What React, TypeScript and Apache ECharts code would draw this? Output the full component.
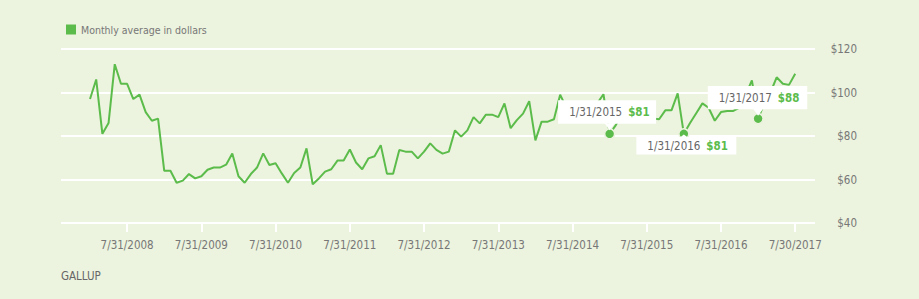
import React, { useEffect, useRef } from "react";
import * as echarts from "echarts";

// Monthly values, Jan 2008 .. Jul 2017 (index 0 = Jan 2008)
const values2008 = [97, 106, 81, 86, 113, 104, 104, 97, 99, 91, 87, 88];
const values2009 = [64, 64, 58.5, 59.5, 62.5, 60.5, 61.5, 64.5, 65.5, 65.5, 66.8, 72];
const values2010 = [61.5, 58.5, 62.5, 65.5, 72, 66.7, 67.5, 62.8, 58.5, 63, 65.5, 74.3];
const values2011 = [57.8, 60.5, 63.6, 64.7, 68.7, 68.7, 73.8, 67.8, 64.7, 69.7, 70.7, 75.8];
const values2012 = [62.7, 62.7, 73.6, 72.8, 72.8, 69.7, 72.8, 76.6, 73.6, 71.9, 72.8, 82.6];
const values2013 = [79.7, 82.6, 88.7, 85.8, 89.8, 89.8, 88.7, 95, 83.6, 87.3, 90.3, 96];
const values2014 = [78, 86.6, 86.6, 87.7, 99, 93, 90, 91, 94, 92, 95, 99.2];
const values2015 = [81, 85, 90, 92, 88, 89, 90, 88, 87.7, 91.8, 91.8, 99.6];
const values2016 = [81, 86, 90.5, 95, 93, 87, 91, 91.5, 91.5, 93, 99, 105.6];
const values2017 = [88, 95, 100, 107, 104, 103.5, 108.6];

const monthlyValues = [
  ...values2008, ...values2009, ...values2010, ...values2011, ...values2012,
  ...values2013, ...values2014, ...values2015, ...values2016, ...values2017,
];

// x tick positions (month index) and labels
const tickIndices = [6, 18, 30, 42, 54, 66, 78, 90, 102, 114];
const tickLabels = [
  "7/31/2008", "7/31/2009", "7/31/2010", "7/31/2011", "7/31/2012",
  "7/31/2013", "7/31/2014", "7/31/2015", "7/31/2016", "7/30/2017",
];

// highlighted points (callouts)
const highlightIndices = [84, 96, 108];
const highlightDates = ["1/31/2015", "1/31/2016", "1/31/2017"];

const seriesName = "Monthly average in dollars";
const sourceLabel = "GALLUP";

const GREEN = "#5cbc4b";
const BG = "#ecf3de";
const FONT = "'DejaVu Sans Condensed', Roboto, sans-serif";

// callout box layout relative to the highlighted dot (pixels)
const calloutLayout = [
  { dx: -51.5, dy: -33.5, w: 98, h: 23.5, pointer: "down" },
  { dx: -47.5, dy: 3.2, w: 100, h: 17.5, pointer: "up" },
  { dx: -50.3, dy: -32.6, w: 99.5, h: 23.3, pointer: "down" },
];

export default function App() {
  const ref = useRef<HTMLDivElement>(null);

  useEffect(() => {
    document.body.style.margin = "0";
    const chart = echarts.init(ref.current!, null, { renderer: "svg" });
    chart.setOption({
      animation: false,
      backgroundColor: BG,
      textStyle: { fontFamily: FONT },
      legend: {
        left: 61,
        top: 19,
        itemWidth: 10,
        itemHeight: 10,
        itemGap: 10,
        data: [{ name: seriesName, icon: "rect" }],
        textStyle: { color: "#777", fontSize: 10.5, fontFamily: FONT },
      },
      grid: { left: 61, right: 104, top: 49, bottom: 76 },
      xAxis: {
        type: "value",
        min: -4.69,
        max: 117.2,
        splitLine: { show: false },
        axisLine: { show: false },
        axisTick: {
          show: true,
          customValues: tickIndices,
          length: 9,
          lineStyle: { color: "#ffffff", width: 2 },
        },
        axisLabel: {
          customValues: tickIndices,
          margin: 16,
          color: "#777",
          fontSize: 11.5,
          fontFamily: FONT,
          formatter: (v: number) => {
            const i = tickIndices.indexOf(Math.round(v));
            return i >= 0 ? tickLabels[i] : "";
          },
        },
      },
      yAxis: {
        type: "value",
        position: "right",
        min: 40,
        max: 120,
        interval: 20,
        axisLine: { show: false },
        axisTick: { show: false },
        splitLine: { show: true, lineStyle: { color: "#ffffff", width: 2 } },
        axisLabel: {
          margin: 42,
          align: "right",
          color: "#777",
          fontSize: 11.5,
          fontFamily: FONT,
          formatter: (v: number) => "$" + v,
        },
      },
      series: [
        {
          name: seriesName,
          type: "line",
          data: monthlyValues.map((v, i) => [i, v]),
          showSymbol: false,
          symbol: "none",
          lineStyle: { color: GREEN, width: 2 },
          itemStyle: { color: GREEN },
          z: 3,
        },
        {
          name: "highlights",
          type: "scatter",
          data: highlightIndices.map((i) => [i, monthlyValues[i]]),
          symbolSize: 10,
          itemStyle: { color: GREEN, borderColor: BG, borderWidth: 1.5, opacity: 1 },
          z: 4,
        },
      ],
    });

    const groups = highlightIndices.map((idx, k) => {
      const [px, py] = chart.convertToPixel({ seriesIndex: 0 }, [idx, monthlyValues[idx]]) as number[];
      const L = calloutLayout[k];
      const bx = px + L.dx;
      const by = py + L.dy;
      const pointer =
        L.pointer === "down"
          ? [[px - 5, by + L.h - 0.5], [px + 5, by + L.h - 0.5], [px, by + L.h + 6.5]]
          : [[px - 4, by + 0.5], [px + 4, by + 0.5], [px, by - 2.5]];
      return {
        type: "group",
        z: 100,
        children: [
          { type: "rect", z: 100, shape: { x: bx, y: by, width: L.w, height: L.h }, style: { fill: "#ffffff" } },
          { type: "polygon", z: 100, shape: { points: pointer }, style: { fill: "#ffffff" } },
          {
            type: "text",
            z: 101,
            x: bx + 11,
            y: by + L.h / 2,
            style: {
              text: highlightDates[k],
              fill: "#666",
              font: "11.5px " + FONT,
              verticalAlign: "middle",
              align: "left",
            },
          },
          {
            type: "text",
            z: 101,
            x: bx + 70,
            y: by + L.h / 2,
            style: {
              text: "$" + Math.round(monthlyValues[idx]),
              fill: GREEN,
              font: "bold 11.5px " + FONT,
              verticalAlign: "middle",
              align: "left",
            },
          },
        ],
      };
    });

    chart.setOption({
      graphic: [
        ...groups,
        {
          type: "text",
          left: 61,
          top: 270,
          style: { text: sourceLabel, fill: "#666", font: "11.5px " + FONT },
        },
      ],
    });

    return () => chart.dispose();
  }, []);

  return (
    <div
      ref={ref}
      style={{ position: "fixed", left: 0, top: 0, width: 919, height: 299 }}
    />
  );
}
